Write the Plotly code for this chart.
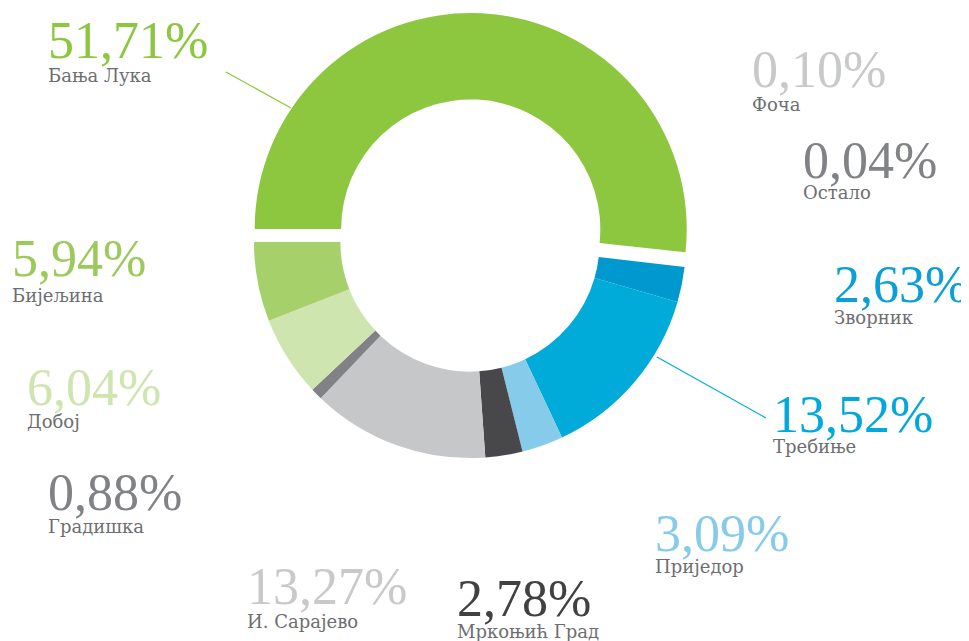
import plotly.graph_objects as go

W, H = 969, 641
OFF = 8  # page body margin offset

cities = ["Бања Лука", "Фоча", "Остало", "Зворник", "Требиње", "Приједор",
          "Мркоњић Град", "И. Сарајево", "Градишка", "Добој", "Бијељина"]
shares = [51.71, 0.10, 0.04, 2.63, 13.52, 3.09, 2.78, 13.27, 0.88, 6.04, 5.94]
# the two tiny slices are not visible in the reference
slice_colors = ["#8dc63f", "#ffffff", "#ffffff", "#0099cf", "#00aad9", "#87cbea",
                "#48484a", "#c6c7c9", "#808285", "#cfe5b0", "#a5d06a"]
pct_labels = ["51,71%", "0,10%", "0,04%", "2,63%", "13,52%", "3,09%",
              "2,78%", "13,27%", "0,88%", "6,04%", "5,94%"]
pct_colors = ["#8dc63f", "#c8c9cb", "#808285", "#0a9fd6", "#00a9dc", "#87cbea",
              "#414042", "#c8c9cb", "#808285", "#cfe5b0", "#9cca5a"]
pulls = [0.06, 0, 0, 0, 0, 0, 0, 0, 0, 0, 0]

# label layout (pixel positions in the screenshot: left x, percent mid-y, name mid-y)
label_pos = {
    "Бања Лука": (46, 40, 75),
    "Фоча": (750, 70, 104),
    "Остало": (801, 160, 192),
    "Зворник": (832, 284, 318),
    "Требиње": (771, 414, 446),
    "Приједор": (653, 533, 566),
    "Мркоњић Град": (455, 598, 631),
    "И. Сарајево": (245, 586, 621),
    "Градишка": (46, 492, 526),
    "Добој": (25, 387, 421),
    "Бијељина": (10, 259, 295),
}


def px(x):
    return (x - OFF) / W


def py(y):
    return 1 - (y - OFF) / H


fig = go.Figure()
fig.add_trace(go.Pie(
    labels=cities, values=shares, sort=False, direction="clockwise", rotation=270,
    hole=0.6, pull=pulls, textinfo="none", hoverinfo="label+percent",
    marker=dict(colors=slice_colors, line=dict(width=0)),
    domain=dict(x=[px(240), px(700)], y=[py(471), py(13)]),
    showlegend=False,
))

annotations = []
for city, pct, col in zip(cities, pct_labels, pct_colors):
    lx, ypct, yname = label_pos[city]
    annotations.append(dict(
        text=pct, x=px(lx), y=py(ypct), xref="paper", yref="paper",
        xanchor="left", yanchor="middle", showarrow=False,
        font=dict(family="Liberation Serif", size=52, color=col)))
    annotations.append(dict(
        text=city, x=px(lx), y=py(yname), xref="paper", yref="paper",
        xanchor="left", yanchor="middle", showarrow=False,
        font=dict(family="DejaVu Serif", size=18, color="#6d6e71")))

shapes = [
    dict(type="line", xref="paper", yref="paper", x0=px(226), y0=py(72), x1=px(291), y1=py(108),
         line=dict(color="#8dc63f", width=1.2)),
    dict(type="line", xref="paper", yref="paper", x0=px(657), y0=py(357), x1=px(766), y1=py(418),
         line=dict(color="#00aad9", width=1.2)),
]

fig.update_layout(
    width=W, height=H, margin=dict(l=0, r=0, t=0, b=0),
    paper_bgcolor="white", plot_bgcolor="white",
    annotations=annotations, shapes=shapes,
)

fig.write_html("out.html")
